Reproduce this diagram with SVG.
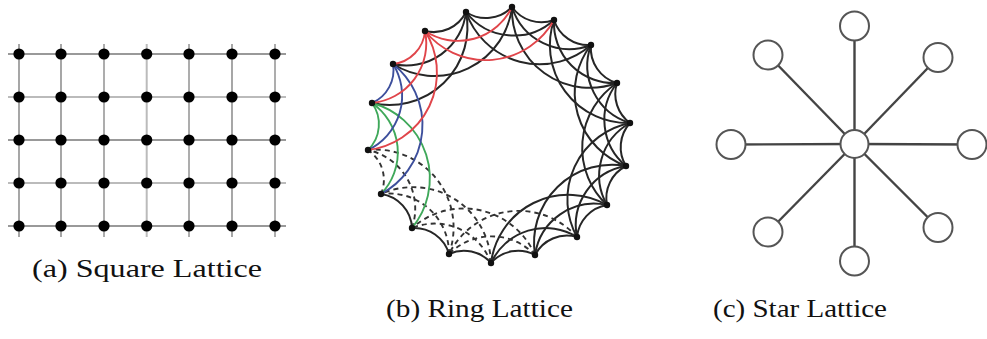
<svg xmlns="http://www.w3.org/2000/svg" width="987" height="339" viewBox="0 0 987 339">
<style>
.gd{stroke:#777;stroke-width:1.3;fill:none}
.gm{stroke:#999;stroke-width:1.6;fill:none}
.gl{stroke:#bbb;stroke-width:2;fill:none}
.dot{fill:#000}
.e{fill:none;stroke:#262626;stroke-width:2}
.ds{fill:none;stroke:#333;stroke-width:1.9;stroke-dasharray:5 4}
.r{fill:none;stroke:#e0454a;stroke-width:1.9}
.b{fill:none;stroke:#3d4f9c;stroke-width:1.9}
.g{fill:none;stroke:#3fa85a;stroke-width:1.9}
.rn{fill:#111}
.sl{stroke:#444;stroke-width:2.4}
.sc{fill:#fff;stroke:#555;stroke-width:2}
.cap{font-family:"Liberation Serif","DejaVu Serif",serif;font-size:25px;fill:#111}
</style>
<rect width="987" height="339" fill="#fff"/>

<!-- (a) Square lattice -->
<g id="square-lattice">
<g id="square-edges">
<line class="gd" x1="19" y1="44" x2="19" y2="237"/>
<line class="gd" x1="61" y1="44" x2="61" y2="237"/>
<line class="gm" x1="104" y1="44" x2="104" y2="237"/>
<line class="gl" x1="146.7" y1="44" x2="146.7" y2="237"/>
<line class="gm" x1="189" y1="44" x2="189" y2="237"/>
<line class="gd" x1="232" y1="44" x2="232" y2="237"/>
<line class="gm" x1="275" y1="44" x2="275" y2="237"/>
<line class="gd" x1="8" y1="54" x2="286" y2="54"/>
<line class="gl" x1="8" y1="97" x2="286" y2="97"/>
<line class="gd" x1="8" y1="140" x2="286" y2="140"/>
<line class="gl" x1="8" y1="183" x2="286" y2="183"/>
<line class="gd" x1="8" y1="226" x2="286" y2="226"/>
</g>
<g id="square-nodes" class="dot">
<circle cx="19" cy="54" r="5.6"/><circle cx="61" cy="54" r="5.6"/><circle cx="104" cy="54" r="5.6"/><circle cx="146.7" cy="54" r="5.6"/><circle cx="189" cy="54" r="5.6"/><circle cx="232" cy="54" r="5.6"/><circle cx="275" cy="54" r="5.6"/>
<circle cx="19" cy="97" r="5.6"/><circle cx="61" cy="97" r="5.6"/><circle cx="104" cy="97" r="5.6"/><circle cx="146.7" cy="97" r="5.6"/><circle cx="189" cy="97" r="5.6"/><circle cx="232" cy="97" r="5.6"/><circle cx="275" cy="97" r="5.6"/>
<circle cx="19" cy="140" r="5.6"/><circle cx="61" cy="140" r="5.6"/><circle cx="104" cy="140" r="5.6"/><circle cx="146.7" cy="140" r="5.6"/><circle cx="189" cy="140" r="5.6"/><circle cx="232" cy="140" r="5.6"/><circle cx="275" cy="140" r="5.6"/>
<circle cx="19" cy="183" r="5.6"/><circle cx="61" cy="183" r="5.6"/><circle cx="104" cy="183" r="5.6"/><circle cx="146.7" cy="183" r="5.6"/><circle cx="189" cy="183" r="5.6"/><circle cx="232" cy="183" r="5.6"/><circle cx="275" cy="183" r="5.6"/>
<circle cx="19" cy="226" r="5.6"/><circle cx="61" cy="226" r="5.6"/><circle cx="104" cy="226" r="5.6"/><circle cx="146.7" cy="226" r="5.6"/><circle cx="189" cy="226" r="5.6"/><circle cx="232" cy="226" r="5.6"/><circle cx="275" cy="226" r="5.6"/>
</g>
</g>

<!-- (b) Ring lattice -->
<g id="ring-edges">
<!-- k=1 -->
<path class="e" d="M466 12A36 36 0 0 0 512 7"/>
<path class="e" d="M512 7A36 36 0 0 0 554 20"/>
<path class="e" d="M554 20A36 36 0 0 0 591 45"/>
<path class="e" d="M591 45A36 36 0 0 0 617 83"/>
<path class="e" d="M617 83A36 36 0 0 0 630 123"/>
<path class="e" d="M630 123A36 36 0 0 0 626 166"/>
<path class="e" d="M626 166A36 36 0 0 0 607 205"/>
<path class="e" d="M607 205A36 36 0 0 0 577 237"/>
<path class="e" d="M577 237A36 36 0 0 0 535 255"/>
<path class="e" d="M535 255A36 36 0 0 0 491 263"/>
<path class="e" d="M491 263A36 36 0 0 0 449 254"/>
<path class="e" d="M449 254A36 36 0 0 0 412 228"/>
<path class="e" d="M412 228A36 36 0 0 0 381 194"/>
<path class="e" d="M425 31A36 36 0 0 0 466 12"/>
<!-- k=2 -->
<path class="e" d="M466 12A60 60 0 0 0 554 20"/>
<path class="e" d="M512 7A60 60 0 0 0 591 45"/>
<path class="e" d="M554 20A60 60 0 0 0 617 83"/>
<path class="e" d="M591 45A60 60 0 0 0 630 123"/>
<path class="e" d="M617 83A60 60 0 0 0 626 166"/>
<path class="e" d="M630 123A60 60 0 0 0 607 205"/>
<path class="e" d="M626 166A60 60 0 0 0 577 237"/>
<path class="e" d="M607 205A60 60 0 0 0 535 255"/>
<path class="e" d="M577 237A60 60 0 0 0 491 263"/>
<path class="e" d="M393 64A60 60 0 0 0 466 12"/>
<!-- k=3 -->
<path class="e" d="M466 12A78 78 0 0 0 591 45"/>
<path class="e" d="M512 7A78 78 0 0 0 617 83"/>
<path class="e" d="M554 20A78 78 0 0 0 630 123"/>
<path class="e" d="M591 45A78 78 0 0 0 626 166"/>
<path class="e" d="M617 83A78 78 0 0 0 607 205"/>
<path class="e" d="M630 123A78 78 0 0 0 577 237"/>
<path class="e" d="M626 166A78 78 0 0 0 535 255"/>
<path class="e" d="M607 205A78 78 0 0 0 491 263"/>
<path class="e" d="M372 103A78 78 0 0 0 466 12"/>
<path class="e" d="M393 64A78 78 0 0 0 512 7"/>
<!-- dashed -->
<path class="ds" d="M381 194A36 36 0 0 0 368 150"/>
<path class="ds" d="M535 255A60 60 0 0 0 449 254"/>
<path class="ds" d="M491 263A60 60 0 0 0 412 228"/>
<path class="ds" d="M449 254A60 60 0 0 0 381 194"/>
<path class="ds" d="M412 228A60 60 0 0 0 368 150"/>
<path class="ds" d="M577 237A78 78 0 0 0 449 254"/>
<path class="ds" d="M535 255A78 78 0 0 0 412 228"/>
<path class="ds" d="M491 263A78 78 0 0 0 381 194"/>
<path class="ds" d="M449 254A78 78 0 0 0 368 150"/>
<!-- green (node 16) -->
<path class="g" d="M368 150A36 36 0 0 0 372 103"/>
<path class="g" d="M381 194A60 60 0 0 0 372 103"/>
<path class="g" d="M412 228A78 78 0 0 0 372 103"/>
<!-- blue (node 17) -->
<path class="b" d="M372 103A36 36 0 0 0 393 64"/>
<path class="b" d="M368 150A60 60 0 0 0 393 64"/>
<path class="b" d="M381 194A78 78 0 0 0 393 64"/>
<!-- red (node 18) -->
<path class="r" d="M393 64A36 36 0 0 0 425 31"/>
<path class="r" d="M372 103A60 60 0 0 0 425 31"/>
<path class="r" d="M368 150A78 78 0 0 0 425 31"/>
<path class="r" d="M425 31A60 60 0 0 0 512 7"/>
<path class="r" d="M425 31A78 78 0 0 0 554 20"/>
</g>
<g id="ring-nodes" class="rn">
<circle id="n1" cx="466" cy="12" r="3.2"/>
<circle id="n2" cx="512" cy="7" r="3.2"/>
<circle id="n3" cx="554" cy="20" r="3.2"/>
<circle id="n4" cx="591" cy="45" r="3.2"/>
<circle id="n5" cx="617" cy="83" r="3.2"/>
<circle id="n6" cx="630" cy="123" r="3.2"/>
<circle id="n7" cx="626" cy="166" r="3.2"/>
<circle id="n8" cx="607" cy="205" r="3.2"/>
<circle id="n9" cx="577" cy="237" r="3.2"/>
<circle id="n10" cx="535" cy="255" r="3.2"/>
<circle id="n11" cx="491" cy="263" r="3.2"/>
<circle id="n12" cx="449" cy="254" r="3.2"/>
<circle id="n13" cx="412" cy="228" r="3.2"/>
<circle id="n14" cx="381" cy="194" r="3.2"/>
<circle id="n15" cx="368" cy="150" r="3.2"/>
<circle id="n16" cx="372" cy="103" r="3.2"/>
<circle id="n17" cx="393" cy="64" r="3.2"/>
<circle id="n18" cx="425" cy="31" r="3.2"/>
</g>

<!-- (c) Star lattice -->
<g id="star-edges" class="sl">
<line x1="854.5" y1="144" x2="854.5" y2="26"/>
<line x1="854.5" y1="144" x2="768" y2="55"/>
<line x1="854.5" y1="144" x2="938" y2="57.5"/>
<line x1="854.5" y1="144" x2="731" y2="144.5"/>
<line x1="854.5" y1="144" x2="972" y2="144.5"/>
<line x1="854.5" y1="144" x2="768" y2="232"/>
<line x1="854.5" y1="144" x2="938" y2="227.5"/>
<line x1="854.5" y1="144" x2="854.5" y2="261"/>
</g>
<g id="star-center"><circle class="sc" cx="854.5" cy="144" r="14"/></g>
<g id="star-top"><circle class="sc" cx="854.5" cy="26" r="14.5"/></g>
<g id="star-upper-left"><circle class="sc" cx="768" cy="55" r="14.5"/></g>
<g id="star-upper-right"><circle class="sc" cx="938" cy="57.5" r="14.5"/></g>
<g id="star-left"><circle class="sc" cx="731" cy="144.5" r="14.5"/></g>
<g id="star-right"><circle class="sc" cx="972" cy="144.5" r="14.5"/></g>
<g id="star-lower-left"><circle class="sc" cx="768" cy="232" r="14.5"/></g>
<g id="star-lower-right"><circle class="sc" cx="938" cy="227.5" r="14.5"/></g>
<g id="star-bottom"><circle class="sc" cx="854.5" cy="261" r="14.5"/></g>

<!-- captions -->
<text class="cap" x="32" y="277" textLength="230" lengthAdjust="spacingAndGlyphs">(a) Square Lattice</text>
<text class="cap" x="386" y="317" textLength="187" lengthAdjust="spacingAndGlyphs">(b) Ring Lattice</text>
<text class="cap" x="713" y="317" textLength="174" lengthAdjust="spacingAndGlyphs">(c) Star Lattice</text>
</svg>
